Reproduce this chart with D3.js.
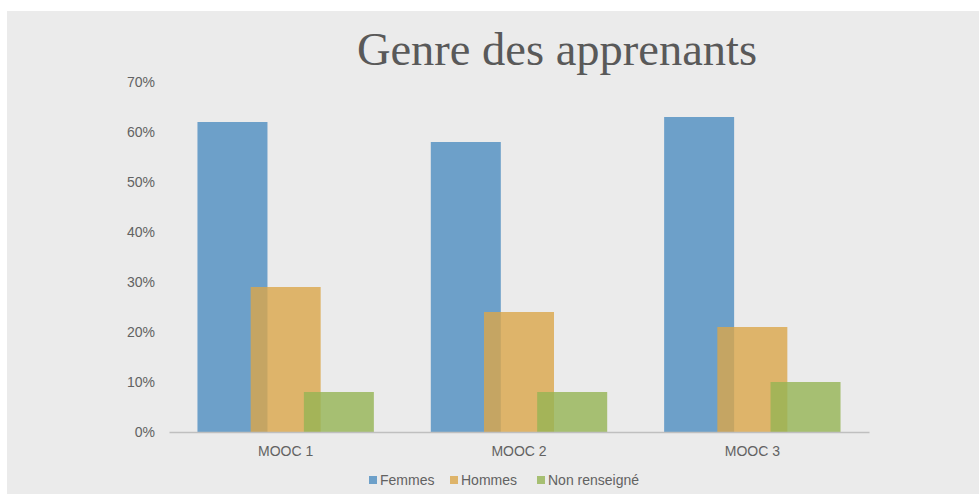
<!DOCTYPE html>
<meta charset="utf-8">
<script src="https://d3js.org/d3.v7.min.js"></script>
<style>
  body { margin: 0; background: #fff; }
</style>
<div id="chart"></div>
<script>
// data
var categories = ["MOOC 1", "MOOC 2", "MOOC 3"];
var seriesNames = ["Femmes", "Hommes", "Non renseigné"];
var femmes = [0.62, 0.58, 0.63];
var hommes = [0.29, 0.24, 0.21];
var nonRenseigne = [0.08, 0.08, 0.10];
var yTicks = [0, 0.1, 0.2, 0.3, 0.4, 0.5, 0.6, 0.7];

var seriesValues = [femmes, hommes, nonRenseigne];
var colors = ["#4d8dc1", "#dba64a", "#95b454"];

var W = 979, H = 494;
var margin = {top: 82, right: 110, bottom: 62, left: 169};

var svg = d3.select("#chart")
  .append("svg")
    .attr("width", W)
    .attr("height", H);

// gray panel
svg.append("rect")
  .attr("x", 7)
  .attr("y", 11)
  .attr("width", W - 7)
  .attr("height", H - 11)
  .attr("fill", "#ebebeb");

var x = d3.scaleBand()
  .domain(categories)
  .range([margin.left, W - margin.right])
  .padding(0);

var y = d3.scaleLinear()
  .domain([0, 0.7])
  .range([H - margin.bottom, margin.top]);

// bars overlap a bit inside each group
var barW = x.bandwidth() * 0.3;
var barStep = barW * 0.76;
var groupW = barW + barStep * 2;

seriesValues.forEach(function(vals, i) {
  svg.append("g")
    .selectAll("rect")
    .data(vals)
    .enter()
    .append("rect")
      .attr("x", function(d, j) { return x(categories[j]) + (x.bandwidth() - groupW) / 2 + i * barStep; })
      .attr("y", function(d) { return y(d); })
      .attr("width", barW)
      .attr("height", function(d) { return y(0) - y(d); })
      .attr("fill", colors[i])
      .attr("fill-opacity", 0.8);
});

// y axis labels only
var yAxis = svg.append("g")
  .attr("transform", "translate(" + (margin.left - 14) + ",0)")
  .call(d3.axisLeft(y).tickValues(yTicks).tickFormat(d3.format(".0%")).tickSize(0).tickPadding(0));
yAxis.select(".domain").remove();
yAxis.selectAll("text")
  .style("font-family", "Arial, 'Liberation Sans', sans-serif")
  .style("font-size", "14px")
  .attr("fill", "#626262");

// x axis
var xAxis = svg.append("g")
  .attr("transform", "translate(0," + y(0) + ")")
  .call(d3.axisBottom(x).tickSize(0).tickPadding(14));
xAxis.select(".domain")
  .attr("stroke", "#bfbfbf")
  .attr("stroke-width", 1.5);
xAxis.selectAll("text")
  .style("font-family", "Arial, 'Liberation Sans', sans-serif")
  .style("font-size", "14px")
  .attr("fill", "#626262");

// title
svg.append("text")
  .attr("x", 557)
  .attr("y", 65)
  .attr("text-anchor", "middle")
  .style("font-family", "'Times New Roman', 'Liberation Serif', serif")
  .style("font-size", "46.5px")
  .attr("fill", "#595959")
  .text("Genre des apprenants");

// legend
var legendX = [369, 450, 537];
var legend = svg.append("g");
seriesNames.forEach(function(name, i) {
  legend.append("rect")
    .attr("x", legendX[i])
    .attr("y", 476)
    .attr("width", 8)
    .attr("height", 8)
    .attr("fill", colors[i])
    .attr("fill-opacity", 0.8);
  legend.append("text")
    .attr("x", legendX[i] + 11)
    .attr("y", 485)
    .style("font-family", "Arial, 'Liberation Sans', sans-serif")
    .style("font-size", "14px")
    .attr("fill", "#626262")
    .text(name);
});
</script>
